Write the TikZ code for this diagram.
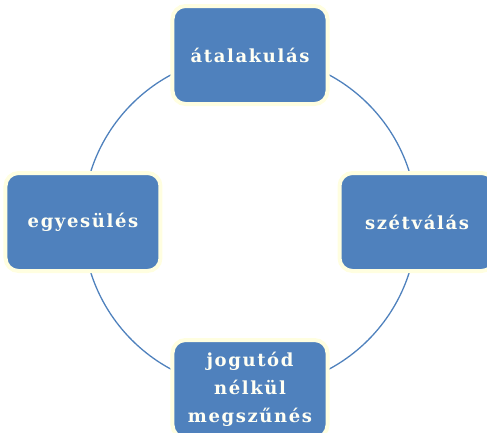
\documentclass[tikz,border=0pt]{standalone}
\usepackage{fontspec}
\setmainfont{DejaVu Serif}
\usetikzlibrary{backgrounds}
\newfontfamily\stagefont[LetterSpace=9]{DejaVu Serif}
\definecolor{stageblue}{HTML}{4F81BD}
\definecolor{cream}{HTML}{FFFEE0}
\definecolor{paper}{HTML}{FFFFF4}

\begin{document}
\begin{tikzpicture}[x=1pt,y=1pt,
stage/.style={draw=cream,line width=4pt,fill=stageblue,rounded corners=13pt,
minimum width=155pt,minimum height=98pt,align=center,text=paper,
font=\stagefont\bfseries\fontsize{18}{28}\selectfont},
ring/.style={draw=stageblue,line width=1.3pt}]
\useasboundingbox (-250,-210) rectangle (237,222);

\node [stage] (top) at (0,167) {átalakulás};
\node [stage] (left) at (-167,0) {egyesülés};
\node [stage] (right) at (167,0) {szétválás};
\node [stage] (bottom) at (0,-167) {jogutód\\nélkül\\megszűnés};

\begin{scope}[on background layer]
\draw [ring] (top.center) arc [start angle=90, end angle=180, radius=167];
\draw [ring] (left.center) arc [start angle=180, end angle=270, radius=167];
\draw [ring] (bottom.center) arc [start angle=270, end angle=360, radius=167];
\draw [ring] (right.center) arc [start angle=0, end angle=90, radius=167];
\end{scope}
\end{tikzpicture}
\end{document}
